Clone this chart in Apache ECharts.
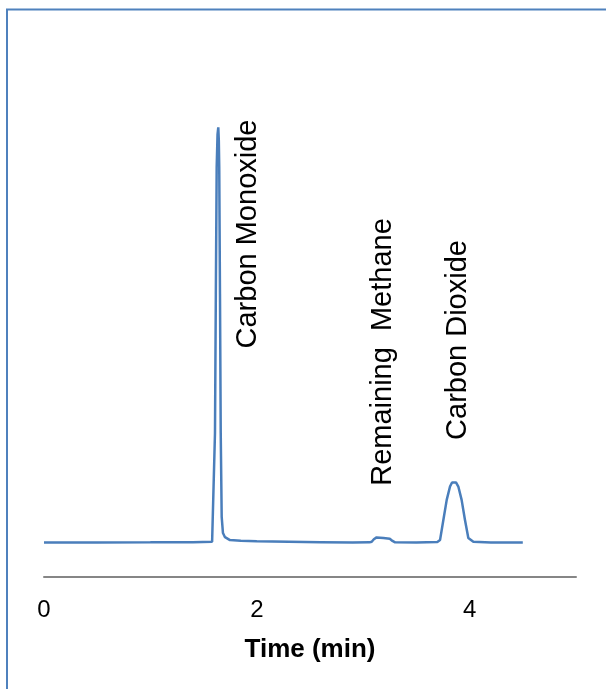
<!DOCTYPE html>
<html>
<head>
<meta charset="utf-8">
<script src="https://cdn.jsdelivr.net/npm/echarts@6/dist/echarts.min.js"></script>
<style>
html,body{margin:0;padding:0;background:#fff;}
#c{width:606px;height:689px;}
</style>
</head>
<body>
<div id="c"></div>
<script>
// Chromatogram signal (time in min, detector response in arbitrary units)
var times = [0, 0.5, 1.0, 1.4, 1.58, 1.597, 1.607, 1.615, 1.623, 1.631, 1.638, 1.643, 1.647, 1.654, 1.661, 1.670, 1.682, 1.701, 1.748, 1.85, 2.0, 2.3, 2.6, 2.9, 3.06, 3.08, 3.10, 3.126, 3.19, 3.25, 3.275, 3.30, 3.5, 3.697, 3.722, 3.753, 3.785, 3.816, 3.835, 3.853, 3.872, 3.894, 3.925, 3.957, 3.988, 4.035, 4.2, 4.5];
var signal = [0.1, 0.1, 0.15, 0.2, 0.3, 0.7, 26.5, 60, 90.6, 98.5, 100.2, 97, 90.6, 60, 26.5, 6.3, 2.4, 1.4, 0.7, 0.55, 0.4, 0.3, 0.2, 0.1, 0.15, 0.3, 0.9, 1.35, 1.2, 1.0, 0.5, 0.15, 0.1, 0.25, 0.7, 5.5, 10.4, 13.6, 14.6, 14.9, 14.6, 13.6, 10.4, 5.5, 1.2, 0.3, 0.1, 0.1];
var tickValues = [0, 2, 4];
var xAxisTitle = 'Time (min)';
var peakNames = ['Carbon Monoxide', 'Remaining  Methane', 'Carbon Dioxide'];

var data = times.map(function (t, i) { return [t, signal[i]]; });
var FONT = '"Liberation Sans", Arial, sans-serif';

var chart = echarts.init(document.getElementById('c'), null, {renderer: 'canvas'});
chart.setOption({
  backgroundColor: '#ffffff',
  animation: false,
  grid: {left: 44, right: 30, top: 95, bottom: 112, containLabel: false},
  xAxis: {
    type: 'value',
    min: 0, max: 5, interval: 2,
    name: xAxisTitle,
    nameLocation: 'middle',
    nameGap: 60,
    nameTextStyle: {fontFamily: FONT, fontSize: 26, fontWeight: 'bold', color: '#000'},
    axisLine: {show: true, onZero: false, lineStyle: {color: '#868686', width: 2}},
    axisTick: {show: false},
    splitLine: {show: false},
    axisLabel: {
      fontFamily: FONT, fontSize: 24, color: '#000', margin: 21, lineHeight: 24,
      showMaxLabel: false,
      formatter: function (v) { return tickValues.indexOf(v) >= 0 ? String(v) : ''; }
    }
  },
  yAxis: {
    type: 'value', min: -8.2, max: 108, show: false,
    splitLine: {show: false}
  },
  series: [{
    type: 'line',
    data: data,
    showSymbol: false,
    smooth: false,
    lineStyle: {color: '#4A7EBB', width: 2.5},
    itemStyle: {color: '#4A7EBB'}
  }],
  graphic: [
    {type: 'rect', shape: {x: 7, y: 9.5, width: 800, height: 800}, style: {fill: null, stroke: '#4F81BD', lineWidth: 2}, silent: true},
    {type: 'text', x: 248, y: 234, rotation: Math.PI / 2, style: {text: peakNames[0], fontFamily: FONT, fontSize: 29, fill: '#000', align: 'center', verticalAlign: 'middle'}},
    {type: 'text', x: 383, y: 352, rotation: Math.PI / 2, style: {text: peakNames[1], fontFamily: FONT, fontSize: 29, fill: '#000', align: 'center', verticalAlign: 'middle'}},
    {type: 'text', x: 458, y: 340, rotation: Math.PI / 2, style: {text: peakNames[2], fontFamily: FONT, fontSize: 29, fill: '#000', align: 'center', verticalAlign: 'middle'}}
  ]
});
</script>
</body>
</html>
